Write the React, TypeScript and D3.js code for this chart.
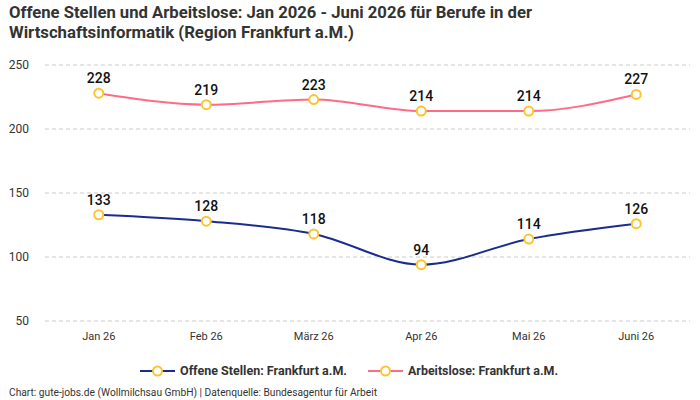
import * as d3 from 'd3';
import React from 'react';
import { useEffect, useRef } from 'react';

const months = ['Jan 26', 'Feb 26', 'März 26', 'Apr 26', 'Mai 26', 'Juni 26'];
const offeneStellen = [133, 128, 118, 94, 114, 126];
const arbeitslose = [228, 219, 223, 214, 214, 227];
const yTicks = [50, 100, 150, 200, 250];

const seriesNames = ['Offene Stellen: Frankfurt a.M.', 'Arbeitslose: Frankfurt a.M.'];
const seriesColors = ['#1b2c8f', '#ff6b86'];
const markerColor = '#fcc42d';
const FONT = "Roboto, 'Noto Sans', sans-serif";

export default function App() {
    const ref = useRef<any>();

    useEffect(() => {
        const width = 700;
        const height = 400;
        const margin = { left: 45, right: 10, top: 65, bottom: 79 };

        const svg = d3.select<any, any>(ref.current);
        svg.selectAll('*').remove();
        svg.attr('width', width).attr('height', height)
            .style('font-family', FONT);

        // title, squeezed a little to keep the condensed look
        const titleLines = [
            { text: 'Offene Stellen und Arbeitslose: Jan 2026 - Juni 2026 für Berufe in der', y: 18, len: 523 },
            { text: 'Wirtschaftsinformatik (Region Frankfurt a.M.)', y: 38, len: 345 },
        ];
        svg.append('g').selectAll('text').data(titleLines).join('text')
            .attr('x', 9)
            .attr('y', (d) => d.y)
            .attr('fill', '#333')
            .attr('font-size', 16)
            .attr('font-weight', 700)
            .attr('textLength', (d) => d.len)
            .attr('lengthAdjust', 'spacingAndGlyphs')
            .text((d) => d.text);

        const xScale = d3.scalePoint<string>()
            .domain(months)
            .range([margin.left, width - margin.right])
            .padding(0.5);
        const yScale = d3.scaleLinear()
            .domain([50, 250])
            .range([height - margin.bottom, margin.top]);

        // grid
        svg.append('g').selectAll('line').data(yTicks).join('line')
            .attr('x1', margin.left)
            .attr('x2', width - margin.right)
            .attr('y1', (d) => yScale(d))
            .attr('y2', (d) => yScale(d))
            .attr('stroke', '#cccccc')
            .attr('stroke-dasharray', '4,3');

        svg.append('g').selectAll('text').data(yTicks).join('text')
            .attr('x', 29)
            .attr('y', (d) => yScale(d))
            .attr('dy', '0.35em')
            .attr('text-anchor', 'end')
            .attr('font-size', 12)
            .attr('fill', '#333')
            .text((d) => d);

        svg.append('g').selectAll('text').data(months).join('text')
            .attr('x', (d) => xScale(d)!)
            .attr('y', 340)
            .attr('text-anchor', 'middle')
            .attr('font-size', 11)
            .attr('fill', '#333')
            .text((d) => d);

        const line = d3.line<number>()
            .x((_, i) => xScale(months[i])!)
            .y((d) => yScale(d))
            .curve(d3.curveMonotoneX);

        [offeneStellen, arbeitslose].forEach((values, si) => {
            const g = svg.append('g');
            g.append('path')
                .attr('d', line(values))
                .attr('fill', 'none')
                .attr('stroke', seriesColors[si])
                .attr('stroke-width', 2);
            g.selectAll('circle').data(values).join('circle')
                .attr('cx', (_, i) => xScale(months[i])!)
                .attr('cy', (d) => yScale(d))
                .attr('r', 4.5)
                .attr('fill', '#fff')
                .attr('stroke', markerColor)
                .attr('stroke-width', 2);
            g.selectAll('text').data(values).join('text')
                .attr('x', (_, i) => xScale(months[i])!)
                .attr('y', (d) => yScale(d) - 10)
                .attr('text-anchor', 'middle')
                .attr('font-size', 14)
                .attr('font-weight', 500)
                .attr('fill', '#111')
                .text((d) => d);
        });

        // legend
        const legendX = [140, 368];
        const legendLen = [167, 150];
        seriesNames.forEach((name, i) => {
            const lg = svg.append('g').attr('transform', `translate(${legendX[i]}, 371)`);
            lg.append('line')
                .attr('x1', 0).attr('x2', 35)
                .attr('stroke', seriesColors[i])
                .attr('stroke-width', 2);
            lg.append('circle')
                .attr('cx', 17.5).attr('r', 4.5)
                .attr('fill', '#fff')
                .attr('stroke', markerColor)
                .attr('stroke-width', 2);
            lg.append('text')
                .attr('x', 40).attr('dy', '0.35em')
                .attr('font-size', 12)
                .attr('font-weight', 700)
                .attr('fill', '#333')
                .attr('textLength', legendLen[i])
                .attr('lengthAdjust', 'spacingAndGlyphs')
                .text(name);
        });

        svg.append('text')
            .attr('x', 9).attr('y', 396)
            .attr('font-size', 10)
            .attr('fill', '#333')
            .attr('textLength', 368)
            .attr('lengthAdjust', 'spacingAndGlyphs')
            .text('Chart: gute-jobs.de (Wollmilchsau GmbH) | Datenquelle: Bundesagentur für Arbeit');
    });

    return (
        <React.Fragment>
            <svg ref={ref} style={{ position: 'absolute', left: 0, top: 0 }}></svg>
        </React.Fragment>
    );
}
